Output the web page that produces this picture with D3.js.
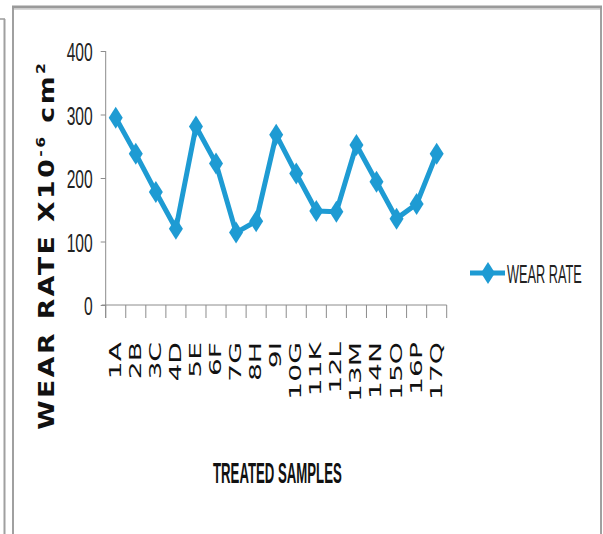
<!DOCTYPE html>
<html><head><meta charset="utf-8">
<script src="https://cdn.jsdelivr.net/npm/d3@7"></script>
<style>html,body{margin:0;padding:0;background:#fff;}svg{display:block;}</style>
</head><body>
<svg id="c" width="603" height="534"></svg>
<script>
const categories = ["1A","2B","3C","4D","5E","6F","7G","8H","9I","10G","11K","12L","13M","14N","15O","16P","17Q"];
const wearRate = [295,238,178,120,281,223,114,132,268,207,148,147,252,194,136,159,238];
const yTicks = [0,100,200,300,400];
const seriesName = "WEAR RATE";
const xTitle = "TREATED SAMPLES";

const svg = d3.select("#c");
const blue = "#1e9bd3";
const axisCol = "#8c8c8c";

// frame
svg.append("line").attr("x1",0).attr("y1",19).attr("x2",5).attr("y2",19).attr("stroke","#9a9a9a").attr("stroke-width",1.5);
svg.append("line").attr("x1",4.5).attr("y1",19).attr("x2",4.5).attr("y2",534).attr("stroke","#a0a0a0").attr("stroke-width",2);
svg.append("line").attr("x1",13).attr("y1",6).attr("x2",13).attr("y2",534).attr("stroke","#a0a0a0").attr("stroke-width",2);
svg.append("line").attr("x1",601).attr("y1",6).attr("x2",601).attr("y2",534).attr("stroke","#a0a0a0").attr("stroke-width",2);
svg.append("line").attr("x1",12).attr("y1",7).attr("x2",602).attr("y2",7).attr("stroke","#9a9a9a").attr("stroke-width",3);
svg.append("line").attr("x1",14).attr("y1",9.5).attr("x2",600).attr("y2",9.5).attr("stroke","#d8d8d8").attr("stroke-width",1);

const x = d3.scaleBand().domain(categories).range([105.7,446.7]).padding(0);
const y = d3.scaleLinear().domain([0,400]).range([305,51]);

// y axis
const gy = svg.append("g").attr("transform","translate(105.7,0)")
  .call(d3.axisLeft(y).tickValues(yTicks).tickSize(5).tickFormat(d3.format("d")));
gy.select(".domain").attr("stroke",axisCol).attr("d","M0,51V318");
gy.selectAll(".tick line").attr("stroke",axisCol);
gy.selectAll(".tick text").remove();
gy.selectAll(".tick").append("text")
  .attr("transform","translate(-13,9.5) scale(0.6,1)")
  .attr("text-anchor","end")
  .attr("fill","#222")
  .attr("font-family","Liberation Sans, Arial, sans-serif")
  .attr("font-size",26)
  .text(d => d);

// x axis
const gx = svg.append("g").attr("transform","translate(0,305)")
  .call(d3.axisBottom(x).tickSize(0).tickFormat(""));
gx.select(".domain").attr("stroke",axisCol).attr("d","M101.7,0H446.7");
gx.selectAll(".tick").remove();
const bounds = categories.map(c => x(c)).concat([x.range()[1]]);
gx.selectAll("line.b").data(bounds).enter().append("line")
  .attr("x1",d=>d).attr("x2",d=>d).attr("y1",0).attr("y2",13)
  .attr("stroke",axisCol).attr("stroke-width",1);

// x tick labels
svg.append("g").selectAll("text").data(categories).enter().append("text")
  .attr("transform",d => `translate(${x(d)+x.bandwidth()/2+5},342) rotate(-90) scale(1.76,1)`)
  .attr("text-anchor","end")
  .attr("fill","#111")
  .attr("font-family","DejaVu Sans, Verdana, sans-serif")
  .attr("font-size",16)
  .text(d => d);

// line
const cx = d => x(d) + x.bandwidth()/2;
const pts = categories.map((c,i) => [cx(c), y(wearRate[i])]);
svg.append("path").datum(pts)
  .attr("d", d3.line())
  .attr("fill","none").attr("stroke",blue).attr("stroke-width",5).attr("stroke-linejoin","round");
const diamond = "M0,-11L7,0L0,11L-7,0Z";
svg.append("g").selectAll("path").data(pts).enter().append("path")
  .attr("transform",d => `translate(${d[0]},${d[1]})`)
  .attr("d",diamond).attr("fill",blue);

// y title
const yt = svg.append("text")
  .attr("transform","translate(53.5,246.5) rotate(-90) scale(1.3,1)")
  .attr("text-anchor","middle")
  .attr("font-family","DejaVu Sans, Verdana, sans-serif")
  .attr("font-weight","bold")
  .attr("font-size",20.5)
  .attr("fill","#111")
  .attr("textLength",282)
  .attr("lengthAdjust","spacing");
yt.append("tspan").text("WEAR RATE X10");
yt.append("tspan").attr("font-size",12).attr("dy",-9).text("-6");
yt.append("tspan").attr("dy",9).text(" cm");
yt.append("tspan").attr("font-size",12).attr("dy",-9).text("2");

// x title
svg.append("text")
  .attr("transform","translate(213,483) scale(0.44,1)")
  .attr("font-family","Liberation Sans, Arial, sans-serif")
  .attr("font-weight","bold")
  .attr("font-size",30)
  .attr("fill","#111")
  .text(xTitle);

// legend
svg.append("line").attr("x1",470).attr("x2",505).attr("y1",273).attr("y2",273)
  .attr("stroke",blue).attr("stroke-width",5);
svg.append("path").attr("transform","translate(488,273)").attr("d",diamond).attr("fill",blue);
svg.append("text")
  .attr("transform","translate(507,283) scale(0.49,1)")
  .attr("font-family","Liberation Sans, Arial, sans-serif")
  .attr("font-size",26)
  .attr("fill","#222")
  .text(seriesName);
</script>
</body></html>
